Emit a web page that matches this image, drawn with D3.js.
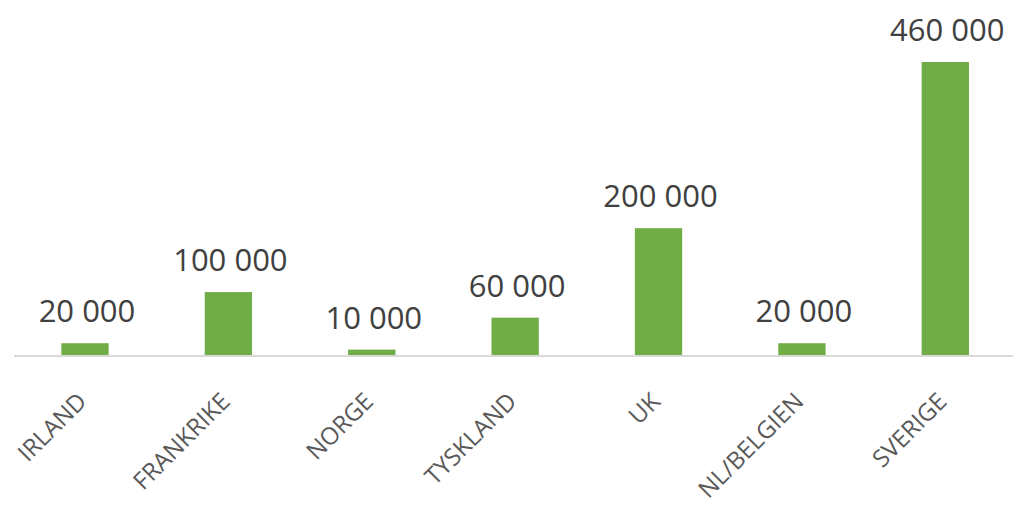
<!DOCTYPE html>
<html>
<head>
<meta charset="utf-8">
<script src="https://cdn.jsdelivr.net/npm/d3@7"></script>
<style>
  html, body { margin: 0; padding: 0; background: #fff; }
  svg { display: block; }
</style>
</head>
<body>
<svg id="chart" width="1013" height="506"></svg>
<script>
const categories = ["IRLAND", "FRANKRIKE", "NORGE", "TYSKLAND", "UK", "NL/BELGIEN", "SVERIGE"];
const values = [20000, 100000, 10000, 60000, 200000, 20000, 460000];

const W = 1013, H = 506;
const baseY = 356;
const svg = d3.select("#chart");

const x = d3.scaleBand().domain(categories).range([13.3, 1017]).paddingInner(0.67).paddingOuter(0.335);
const y = d3.scaleLinear().domain([0, 460000]).range([baseY, 62]);

const fmt = d3.formatLocale({ decimal: ",", thousands: "\u00a0", grouping: [3], currency: ["", ""] }).format(",d");

const data = categories.map((c, i) => ({ c, v: values[i] }));

svg.selectAll("rect.bar").data(data).join("rect")
  .attr("class", "bar")
  .attr("x", d => x(d.c))
  .attr("width", x.bandwidth())
  .attr("y", d => y(d.v))
  .attr("height", d => y(0) - y(d.v))
  .attr("fill", "#70AD47");

// axis line
const axis = d3.axisBottom(x).tickSize(0).tickFormat("");
const g = svg.append("g").attr("transform", `translate(0,${baseY})`).call(axis);
g.select(".domain").attr("stroke", "#D9D9D9").attr("stroke-width", 2).attr("d", "M14,0H1013");

// value labels
svg.selectAll("text.val").data(data).join("text")
  .attr("class", "val")
  .attr("x", d => x(d.c) + x.bandwidth() / 2 + 2)
  .attr("y", d => y(d.v) - 21)
  .attr("text-anchor", "middle")
  .attr("font-family", "'Open Sans', sans-serif")
  .attr("font-size", 31)
  .attr("fill", "#404040")
  .text(d => fmt(d.v));

// category labels
svg.selectAll("text.cat").data(data).join("text")
  .attr("class", "cat")
  .attr("text-anchor", "end")
  .attr("font-family", "'Open Sans', sans-serif")
  .attr("font-size", 24)
  .attr("fill", "#595959")
  .attr("transform", d => `translate(${x(d.c) + x.bandwidth() / 2 + 3},${baseY + 47}) rotate(-45)`)
  .text(d => d.c);
</script>
</body>
</html>
